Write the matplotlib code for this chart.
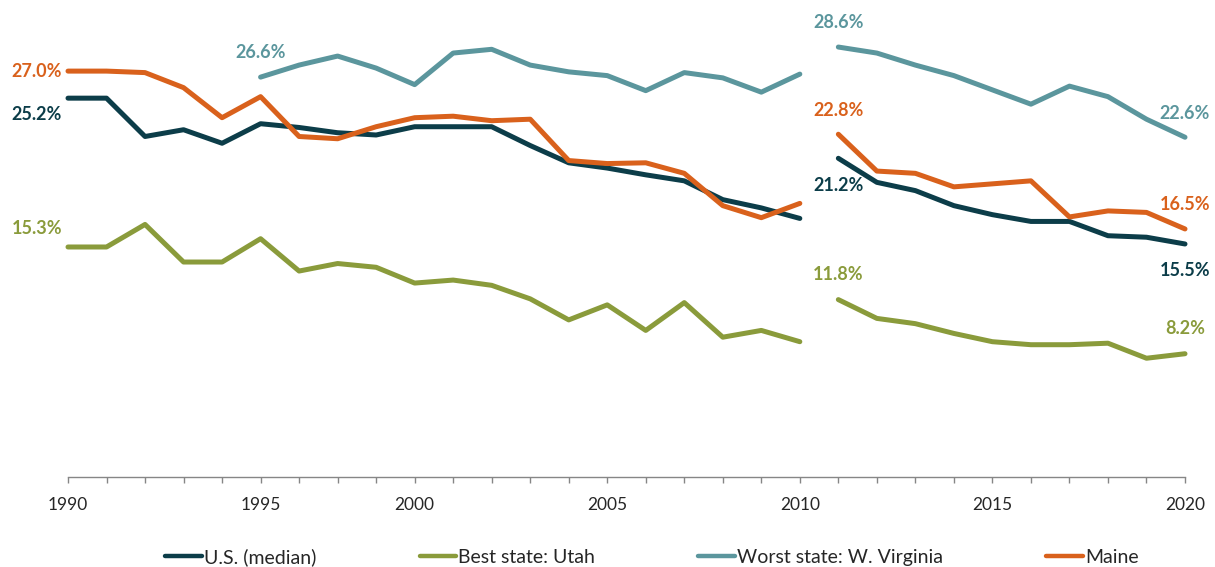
import matplotlib
matplotlib.use('Agg')
import matplotlib.pyplot as plt
import numpy as np

plt.rcParams['font.family'] = ['Lato', 'DejaVu Sans']

# Categories (one missing year between 1995 and 2000, break after 2010)
categories = ['1990', '', '', '', '', '1995', '', '', '', '2000',
              '', '', '', '', '2005', '', '', '', '', '2010',
              '', '', '', '', '2015', '', '', '', '', '2020']
break_after = 20  # first index of the second segment

us = [25.2, 25.2, 22.65, 23.1, 22.2, 23.5, 23.25, 22.9, 22.75, 23.3,
      23.3, 23.3, 22.05, 20.9, 20.55, 20.1, 19.7, 18.45, 17.9, 17.2,
      21.2, 19.6, 19.05, 18.05, 17.45, 17.0, 17.0, 16.05, 15.95, 15.5]
utah = [15.3, 15.3, 16.8, 14.3, 14.3, 15.85, 13.7, 14.2, 13.95, 12.9,
        13.1, 12.75, 11.85, 10.45, 11.45, 9.75, 11.6, 9.3, 9.75, 9.0,
        11.8, 10.55, 10.2, 9.55, 9.0, 8.8, 8.8, 8.9, 7.9, 8.2]
wv = [np.nan, np.nan, np.nan, np.nan, np.nan, 26.6, 27.4, 28.0, 27.2, 26.1,
      28.2, 28.45, 27.4, 26.95, 26.7, 25.7, 26.9, 26.55, 25.6, 26.8,
      28.6, 28.2, 27.4, 26.7, 25.75, 24.8, 26.0, 25.3, 23.8, 22.6]
maine = [27.0, 27.0, 26.9, 25.9, 23.9, 25.3, 22.65, 22.5, 23.3, 23.9,
         24.0, 23.7, 23.8, 21.05, 20.85, 20.9, 20.2, 18.05, 17.25, 18.2,
         22.8, 20.35, 20.2, 19.3, 19.5, 19.7, 17.3, 17.7, 17.6, 16.5]

names = ['U.S. (median)', 'Best state: Utah', 'Worst state: W. Virginia', 'Maine']
colors = ['#0c3d49', '#8a9b3b', '#5b969d', '#d9611c']
series = [us, utah, wv, maine]

# data labels: (series index, point index, dx px, dy px, ha)
labels = [
    (0, 0, -6, -16, 'right'), (0, 20, 0, -27, 'center'), (0, 29, 0, -27, 'center'),
    (1, 0, -6, 18, 'right'), (1, 20, 0, 25, 'center'), (1, 29, 0, 25, 'center'),
    (2, 5, 0, 25, 'center'), (2, 20, 0, 25, 'center'), (2, 29, 0, 24, 'center'),
    (3, 0, -6, 0, 'right'), (3, 20, 0, 24, 'center'), (3, 29, 0, 24, 'center'),
]

fig = plt.figure(figsize=(12.15, 5.67), dpi=100)
ax = fig.add_axes([68/1215, (567-477)/567, 1117/1215, 451/567])

x = np.arange(len(categories))
handles = []
for vals, c, n in zip(series, colors, names):
    v = np.array(vals, dtype=float)
    for sl in (slice(0, break_after), slice(break_after, None)):
        ax.plot(x[sl], v[sl], color=c, lw=3.6, clip_on=False,
                solid_capstyle='round', solid_joinstyle='round')
    handles.append(plt.Line2D([], [], color=c, lw=3.2, solid_capstyle='round'))

for si, pi, dx, dy, ha in labels:
    val = series[si][pi]
    ax.annotate(f'{val:.1f}%', (x[pi], val), xytext=(dx, dy),
                textcoords='offset pixels', ha=ha, va='center',
                fontsize=13, fontweight='bold', color=colors[si])

ax.set_xlim(0, len(categories) - 1)
ax.set_ylim(0, 30)
ax.set_xticks(x)
ax.set_xticklabels(categories, fontsize=12.5, color='#262626')
ax.tick_params(axis='x', length=4.5, width=1, color='#868686', pad=10)
ax.set_yticks([])
for s in ['top', 'right', 'left']:
    ax.spines[s].set_visible(False)
ax.spines['bottom'].set_color('#868686')
ax.spines['bottom'].set_linewidth(1)

fig.legend(handles, names, ncol=4, loc='center',
           bbox_to_anchor=(652/1215, 1 - 557/567), frameon=False,
           fontsize=14, handlelength=1.9, handletextpad=0.1,
           columnspacing=5.3, labelcolor='#262626')

fig.savefig('out.png', dpi=100)
